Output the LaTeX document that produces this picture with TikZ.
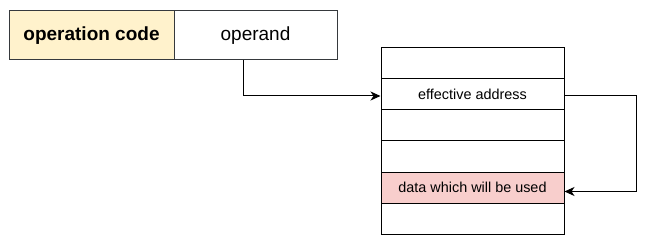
\documentclass[tikz,border=0pt]{standalone}
\usepackage{fontspec}
\setmainfont{Liberation Sans}
\usetikzlibrary{arrows.meta}
\definecolor{opfill}{HTML}{FFF2CC}
\definecolor{datafill}{HTML}{F8CECC}
\definecolor{edge}{HTML}{36393D}
\tikzset{
  topbox/.style={draw=edge, line width=1pt, minimum height=49pt, inner sep=0pt, font=\fontsize{19}{22}\selectfont},
  memrow/.style={draw=black, line width=1pt, minimum width=183pt, minimum height=31pt, inner sep=0pt, font=\fontsize{14.4}{17}\selectfont},
  link/.style={draw=black, line width=1pt, -{Stealth[length=10pt,width=9pt,inset=3pt]}}
}
\begin{document}
\begin{tikzpicture}[x=1pt,y=-1pt]
\useasboundingbox (0,0) rectangle (645,243);
\node[topbox, fill=opfill, minimum width=165pt, font=\fontsize{19}{22}\selectfont\bfseries] (opcode) at (91.5,35.5) {operation code};
\node[topbox, fill=white, minimum width=163pt] (operand) at (255.5,35.5) {operand};
\node[memrow] (r1) at (472.5,63.5) {};
\node[memrow] (eff) at (472.5,94.5) {effective address};
\node[memrow] (r3) at (472.5,125.5) {};
\node[memrow] (r4) at (472.5,156.5) {};
\node[memrow, fill=datafill] (data) at (472.5,187.5) {data which will be used};
\node[memrow] (r6) at (472.5,218.5) {};
\draw[link] ([xshift=-12.5pt]operand.south) |- ([yshift=-1.5pt]eff.west);
\draw[link] ([yshift=-1.5pt]eff.east) -- ++(72,0) |- ([yshift=-4pt]data.east);
\end{tikzpicture}
\end{document}
